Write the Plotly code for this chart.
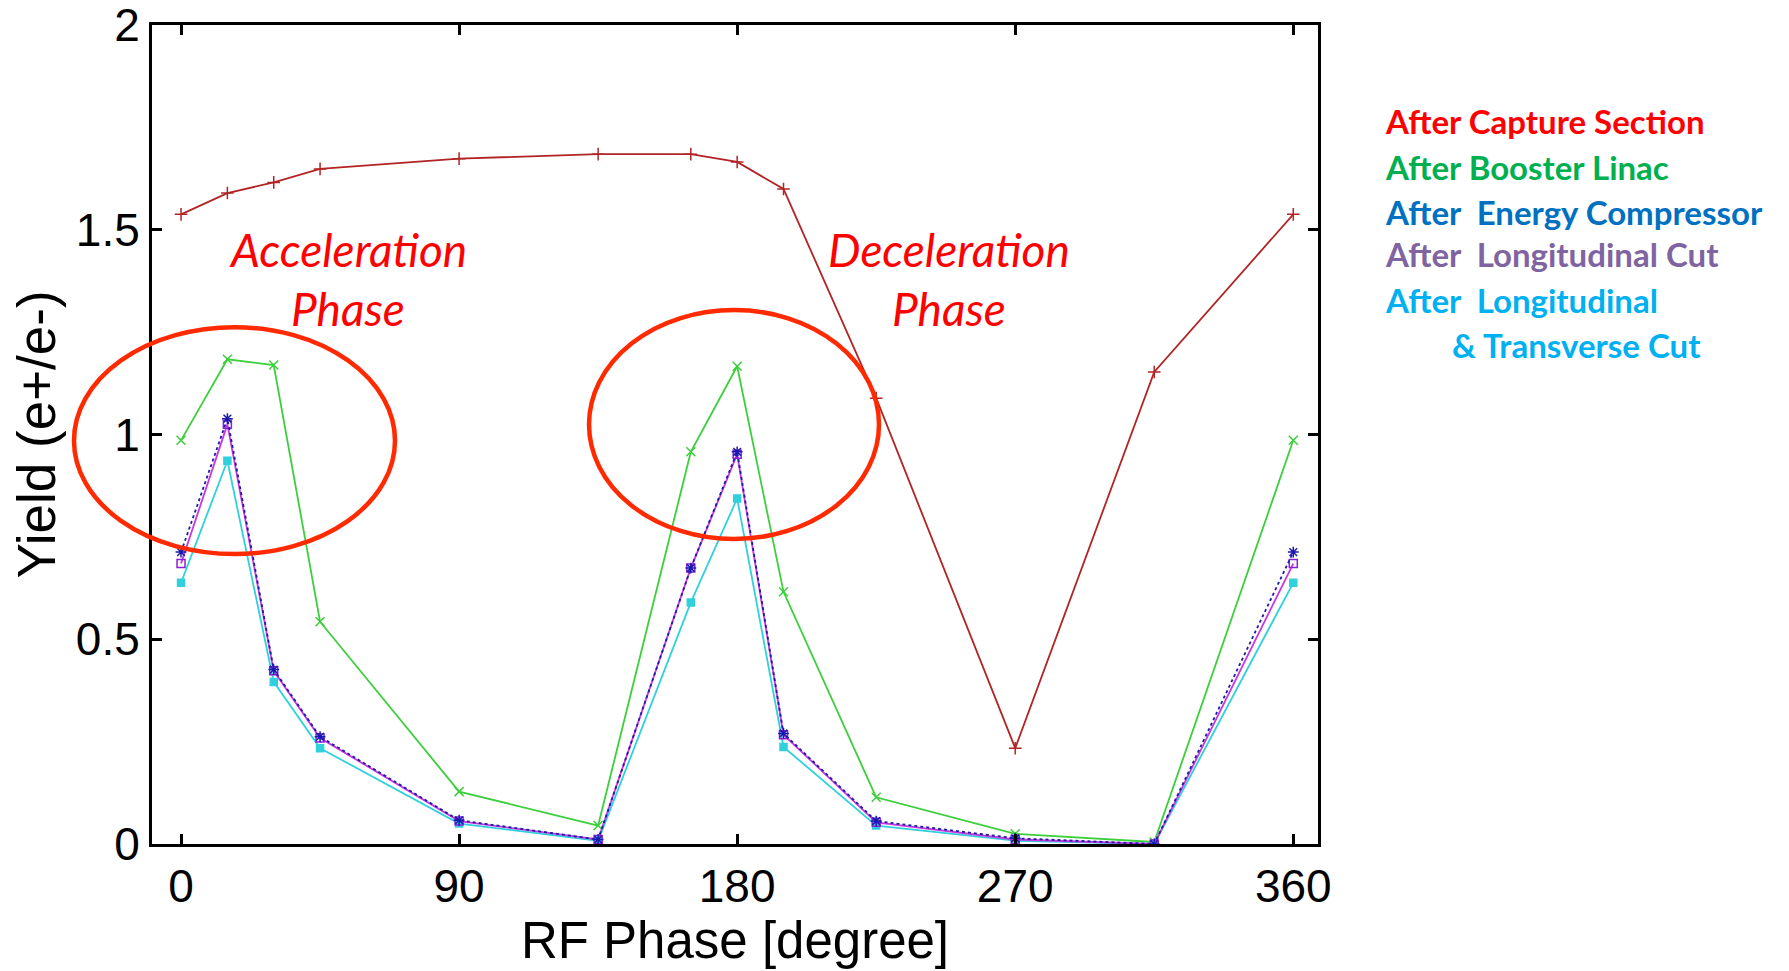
import plotly.graph_objects as go

phase = [0, 15, 30, 45, 90, 135, 165, 180, 195, 225, 270, 315, 360]
capture = [1.538, 1.59, 1.616, 1.649, 1.674, 1.685, 1.685, 1.666, 1.60, 1.089, 0.234, 1.153, 1.538]
booster = [0.986, 1.184, 1.17, 0.543, 0.128, 0.045, 0.958, 1.167, 0.616, 0.114, 0.025, 0.005, 0.986]
compressor = [0.713, 1.039, 0.426, 0.262, 0.058, 0.011, 0.674, 0.958, 0.27, 0.056, 0.014, 0.0, 0.713]
long_cut = [0.685, 1.025, 0.423, 0.259, 0.056, 0.011, 0.674, 0.952, 0.267, 0.053, 0.011, 0.0, 0.685]
trans_cut = [0.638, 0.936, 0.396, 0.234, 0.05, 0.008, 0.59, 0.844, 0.237, 0.045, 0.008, 0.0, 0.638]

x_ticks = [0, 90, 180, 270, 360]
y_ticks = [0, 0.5, 1, 1.5, 2]
y_ticklabels = ["0", "0.5", "1", "1.5", "2"]

legend_labels = ["After Capture Section", "After Booster Linac", "After  Energy Compressor",
                 "After  Longitudinal Cut", "After  Longitudinal", "& Transverse Cut"]
legend_colors = ["#ff0000", "#00b050", "#0070c0", "#8064a2", "#00b0f0", "#00b0f0"]

fig = go.Figure()

series = [
    ("After Capture Section", capture, "#b22424", "solid", "cross-thin", "#b22424", 9),
    ("After Booster Linac", booster, "#3ccf3c", "solid", "x-thin", "#3ccf3c", 9),
    ("After Longitudinal & Transverse Cut", trans_cut, "#30d0dc", "solid", "square", "#30d0dc", 7),
    ("After Longitudinal Cut", long_cut, "#c838e0", "solid", "square-open", "#8a20d8", 8),
    ("After Energy Compressor", compressor, "#1c1ca8", "dot", "asterisk-open", "#1a1ab0", 9),
]
for name, ys, lc, dash, sym, mc, ms in series:
    fig.add_trace(go.Scatter(
        x=phase, y=ys, name=name, mode="lines+markers",
        line=dict(color=lc, width=1.8, dash=dash),
        marker=dict(symbol=sym, size=ms, color=mc, line=dict(color=mc, width=1.5)),
        showlegend=False,
    ))

W, H = 1789, 971
ml, mr, mt, mb = 152, 471, 25, 127

fig.update_layout(
    width=W, height=H,
    margin=dict(l=ml, r=mr, t=mt, b=mb, autoexpand=False),
    paper_bgcolor="white", plot_bgcolor="white",
    font=dict(family="Liberation Sans, Arial, sans-serif", color="black"),
    xaxis=dict(
        range=[-9.4, 368], tickvals=x_ticks, ticktext=[str(v) for v in x_ticks],
        ticks="inside", ticklen=10, tickwidth=3, tickcolor="black",
        showline=True, linewidth=3, linecolor="black", mirror="ticks",
        showgrid=False, zeroline=False, ticklabeloverflow="allow", automargin=False,
        tickfont=dict(size=46, family="Liberation Sans, Arial"),
        title=dict(text="RF Phase [degree]", font=dict(size=51, family="Liberation Sans, Arial"), standoff=6),
    ),
    yaxis=dict(
        range=[0, 2.0005], tickvals=y_ticks, ticktext=y_ticklabels,
        ticks="inside", ticklen=10, tickwidth=3, tickcolor="black",
        showline=True, linewidth=3, linecolor="black", mirror="ticks",
        showgrid=False, zeroline=False, ticklabeloverflow="allow", automargin=False,
        tickfont=dict(size=46, family="Liberation Sans, Arial"),
        title=dict(text="Yield (e+/e-)", font=dict(size=53, family="Liberation Sans, Arial"), standoff=4),
    ),
)

# ellipses highlighting phases (paper coordinates)
for x0, x1, y0, y1 in [(-0.0669, 0.2084, 0.354, 0.631), (0.3748, 0.6235, 0.3724, 0.652)]:
    fig.add_shape(type="circle", xref="paper", yref="paper", x0=x0, x1=x1, y0=y0, y1=y1,
                  line=dict(color="#ff2a00", width=4.5), layer="above")

ann_font = dict(family="Lato, Open Sans, sans-serif", size=46, color="#ff0000", style="italic")
for txt, px, py in [("Acceleration", 348, 249), ("Phase", 348, 308),
                    ("Deceleration", 949, 249), ("Phase", 949, 308)]:
    fig.add_annotation(text=txt, xref="paper", yref="paper",
                       x=(px - ml) / (W - ml - mr), y=(H - mb - py) / (H - mt - mb),
                       xanchor="center", yanchor="middle", showarrow=False, font=ann_font)

leg_pos = [(1383, 121), (1383, 167), (1383, 212), (1383, 254), (1383, 300), (1450, 345)]
for txt, col, (px, py) in zip(legend_labels, legend_colors, leg_pos):
    fig.add_annotation(text="<b>" + txt.replace("  ", "&nbsp; ") + "</b>", xref="paper", yref="paper",
                       x=(px - ml) / (W - ml - mr), y=(H - mb - py) / (H - mt - mb),
                       xanchor="left", yanchor="middle", showarrow=False,
                       font=dict(family="Lato, Open Sans, sans-serif", size=33, color=col))

fig.write_html("out.html")
